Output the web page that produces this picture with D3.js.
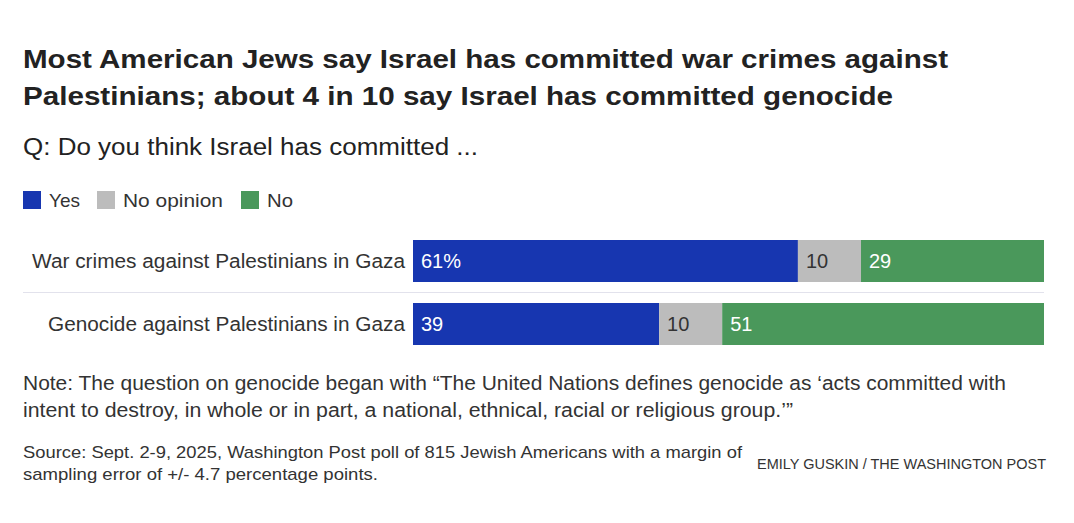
<!DOCTYPE html>
<html><head><meta charset="utf-8">
<script src="https://cdn.jsdelivr.net/npm/d3@7"></script>
<style>
body{margin:0;background:#fff;}
svg text{font-family:"Liberation Sans",Arial,sans-serif;}
</style></head>
<body>
<svg id="c" width="1074" height="523"></svg>
<script>
const categories = ["War crimes against Palestinians in Gaza","Genocide against Palestinians in Gaza"];
const seriesNames = ["Yes","No opinion","No"];
const yesValues = [61,39];
const noOpinionValues = [10,10];
const noValues = [29,51];
const valueLabels = [["61%","10","29"],["39","10","51"]];
const colors = ["#1736b0","#bcbcbc","#4a985b"];
const textColors = ["#fff","#333","#fff"];

const svg = d3.select("#c");
svg.append("rect").attr("width",1074).attr("height",523).attr("fill","#fff");

function txt(x,y,size,s,opts={}){
  const t = svg.append("text").attr("x",x).attr("y",y).attr("font-size",size)
    .attr("fill",opts.fill||"#333").text(s);
  if(opts.bold) t.attr("font-weight","bold");
  if(opts.anchor) t.attr("text-anchor",opts.anchor);
  if(opts.w) t.attr("textLength",opts.w).attr("lengthAdjust","spacingAndGlyphs");
  return t;
}

txt(23,68,26,"Most American Jews say Israel has committed war crimes against",{bold:true,fill:"#222",w:925});
txt(23,105,26,"Palestinians; about 4 in 10 say Israel has committed genocide",{bold:true,fill:"#222",w:870});
txt(23,155,23,"Q: Do you think Israel has committed ...",{fill:"#222",w:455});

// legend
const legX = [23,97,241];
const legW = [31,100,26];
seriesNames.forEach((s,i)=>{
  svg.append("rect").attr("x",legX[i]).attr("y",191).attr("width",18).attr("height",18).attr("fill",colors[i]);
  txt(legX[i]+26,207,19,s,{w:legW[i]});
});

const data = categories.map((c,i)=>({cat:c,vals:[yesValues[i],noOpinionValues[i],noValues[i]],labels:valueLabels[i]}));
const x = d3.scaleLinear().domain([0,100]).range([413,1044]);
const y = d3.scaleBand().domain(categories).range([240,345]).paddingInner(1/3);

// separator
svg.append("line").attr("x1",23).attr("x2",1044).attr("y1",292.5).attr("y2",292.5).attr("stroke","#e2e2ec");

const catW = [373,357];
data.forEach((d,i)=>{
  let acc = 0;
  d.vals.forEach((v,j)=>{
    svg.append("rect").attr("x",x(acc)).attr("y",y(d.cat)).attr("width",x(acc+v)-x(acc)).attr("height",y.bandwidth()).attr("fill",colors[j]);
    txt(x(acc)+8,y(d.cat)+y.bandwidth()/2+7,20,d.labels[j],{fill:textColors[j]});
    acc += v;
  });
  txt(405,y(d.cat)+y.bandwidth()/2+7,20,d.cat,{anchor:"end",w:catW[i]});
});

txt(23,390,20,"Note: The question on genocide began with \u201cThe United Nations defines genocide as \u2018acts committed with",{w:983});
txt(23,417,20,"intent to destroy, in whole or in part, a national, ethnical, racial or religious group.\u2019\u201d",{w:770});
txt(23,458,17,"Source: Sept. 2-9, 2025, Washington Post poll of 815 Jewish Americans with a margin of",{w:719});
txt(23,480,17,"sampling error of +/- 4.7 percentage points.",{w:355});
txt(1046,469,15,"EMILY GUSKIN / THE WASHINGTON POST",{anchor:"end",w:289});
</script>
</body></html>
